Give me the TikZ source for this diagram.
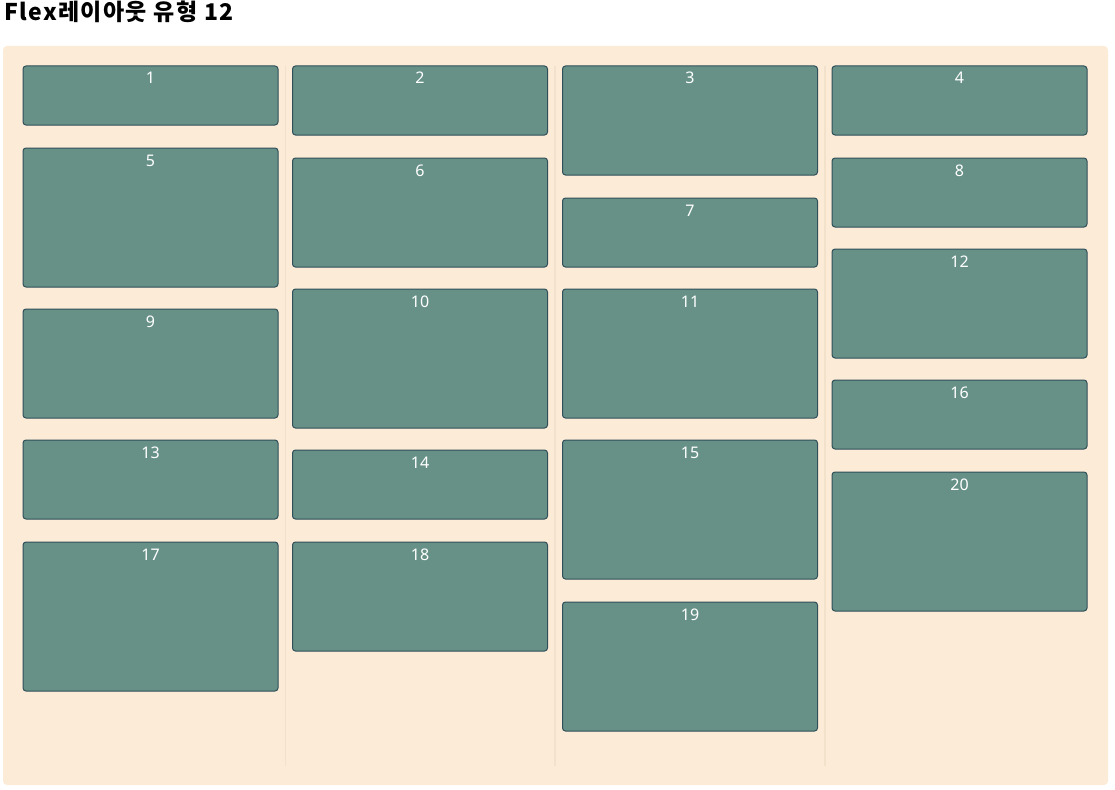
\documentclass[tikz,border=0pt]{standalone}
\usepackage{fontspec}
\setmainfont{Noto Sans}
\newfontfamily\krfont[LetterSpace=6]{Noto Sans CJK KR}
\definecolor{bgpanel}{HTML}{FCEBD6}
\definecolor{boxfill}{HTML}{679187}
\definecolor{boxline}{HTML}{2F4F5A}
\definecolor{sepline}{HTML}{F2E1CB}
\tikzset{
  itembox/.style={draw=boxline, fill=boxfill, line width=1pt, rounded corners=3pt,
    anchor=north west, minimum width=255pt, inner sep=0pt, outer sep=0pt},
  num/.style={text=white, font=\fontsize{16}{18}\selectfont, anchor=base, inner sep=0pt},
  sep/.style={draw=sepline, line width=1.2pt}
}
\newcommand{\itm}[5]{%
  \node[itembox, minimum height=#4pt] (b#1) at (#2,#3) {};
  \path (b#1.north) ++(0,18) node[num] (n#1) {#1};
}
\begin{document}
\begin{tikzpicture}[x=1pt,y=-1pt]
\useasboundingbox (0,0) rectangle (1115,789);
\fill[bgpanel, rounded corners=4pt] (3,46) rectangle (1108,785);
\node[anchor=base west, inner sep=0pt, font=\krfont\bfseries\fontsize{23}{26}\selectfont] (title) at (4,21) {Flex레이아웃 유형 12};
% column separators
\coordinate (s1a) at (285.5,66); \coordinate (s1b) at (285.5,766);
\coordinate (s2a) at (555,66); \coordinate (s2b) at (555,766);
\coordinate (s3a) at (825,66); \coordinate (s3b) at (825,766);
\draw[sep] (s1a) -- (s1b);
\draw[sep] (s2a) -- (s2b);
\draw[sep] (s3a) -- (s3b);
% column 1
\itm{1}{23}{66}{59}{}
\itm{5}{23}{148}{139}{}
\itm{9}{23}{309}{109}{}
\itm{13}{23}{440}{79}{}
\itm{17}{23}{542}{149}{}
% column 2
\itm{2}{292.5}{66}{69}{}
\itm{6}{292.5}{158}{109}{}
\itm{10}{292.5}{289}{139}{}
\itm{14}{292.5}{450}{69}{}
\itm{18}{292.5}{542}{109}{}
% column 3
\itm{3}{562.5}{66}{109}{}
\itm{7}{562.5}{198}{69}{}
\itm{11}{562.5}{289}{129}{}
\itm{15}{562.5}{440}{139}{}
\itm{19}{562.5}{602}{129}{}
% column 4
\itm{4}{832}{66}{69}{}
\itm{8}{832}{158}{69}{}
\itm{12}{832}{249}{109}{}
\itm{16}{832}{380}{69}{}
\itm{20}{832}{472}{139}{}
\end{tikzpicture}
\end{document}
